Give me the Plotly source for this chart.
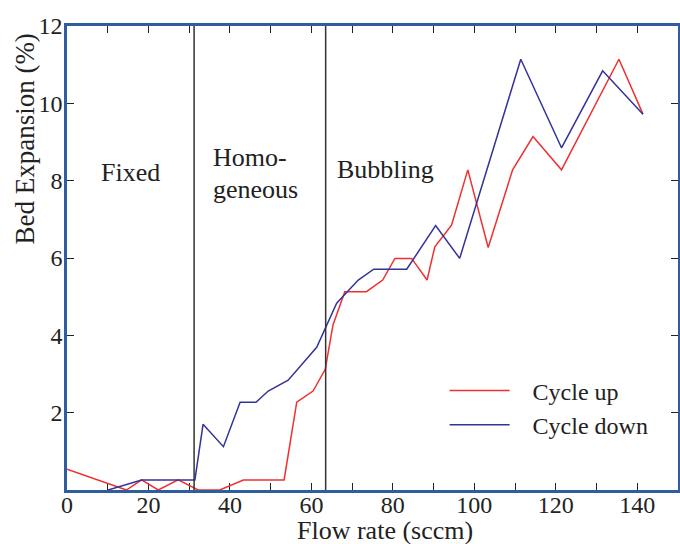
import plotly.graph_objects as go

# Data
up_x = [0, 14.6, 18.3, 22.4, 27.3, 32.2, 37.5, 43.3, 53.3, 56.4, 60.4, 63.4, 65.3, 68.2,
        73.5, 77.5, 80.5, 84.6, 88.4, 90.3, 94.4, 98.4, 103.4, 109.4, 114.4, 121.4, 135.5, 141.4]
up_y = [0.54, 0, 0.26, 0, 0.26, 0, 0, 0.26, 0.26, 2.27, 2.56, 3.12, 4.27, 5.13,
        5.13, 5.43, 5.99, 5.99, 5.43, 6.29, 6.85, 8.28, 6.27, 8.28, 9.14, 8.28, 11.14, 9.72]

down_x = [10.1, 18.3, 31.4, 33.4, 38.4, 42.5, 46.4, 49.4, 54.3, 61.3, 66.2, 71.5,
          75.3, 83.4, 90.5, 96.4, 111.4, 121.4, 131.5, 141.4]
down_y = [0, 0.26, 0.26, 1.70, 1.12, 2.27, 2.27, 2.56, 2.84, 3.69, 4.83, 5.43,
          5.71, 5.71, 6.84, 5.99, 11.14, 8.85, 10.84, 9.72]

regime_bounds = [31.2, 63.5]
regime_labels = ["Fixed", "Homo-", "geneous", "Bubbling"]
regime_label_x = [15.5, 35.3, 35.3, 65.8]
regime_label_y = [8.22, 8.61, 7.78, 8.28]
regime_label_anchor = ["center", "left", "left", "left"]

x_tickvals = list(range(0, 151, 10))
x_ticktext = [str(v) if v % 20 == 0 and v <= 140 else "" for v in x_tickvals]
y_tickvals = list(range(0, 13, 2))
y_ticktext = ["" if v == 0 else str(v) for v in y_tickvals]

x_title = "Flow rate (sccm)"
y_title = "Bed Expansion (%)"

FONT = "Liberation Serif"
TXT = "#222222"
FRAME = "#2f5d9e"

fig = go.Figure()
fig.add_trace(go.Scatter(x=up_x, y=up_y, mode="lines", name="\u00a0\u00a0\u00a0Cycle up",
                         line=dict(color="#ee3030", width=1.5)))
fig.add_trace(go.Scatter(x=down_x, y=down_y, mode="lines", name="\u00a0\u00a0\u00a0Cycle down",
                         line=dict(color="#33339a", width=1.5)))

for b in regime_bounds:
    fig.add_shape(type="line", xref="x", yref="paper", x0=b, x1=b, y0=0, y1=1,
                  line=dict(color="#333333", width=1.5))

for t, x, y, a in zip(regime_labels, regime_label_x, regime_label_y, regime_label_anchor):
    fig.add_annotation(x=x, y=y, xref="x", yref="y", text=t, showarrow=False,
                       xanchor=a, yanchor="middle",
                       font=dict(family=FONT, size=26, color=TXT))

# axis titles placed as in the reference
fig.add_annotation(x=0.520, y=-0.0875, xref="paper", yref="paper", text=x_title,
                   showarrow=False, xanchor="center", yanchor="middle",
                   font=dict(family=FONT, size=26, color=TXT))
fig.add_annotation(x=-0.069, y=0.757, xref="paper", yref="paper", text=y_title,
                   showarrow=False, xanchor="center", yanchor="middle", textangle=-90,
                   font=dict(family=FONT, size=27, color=TXT))

fig.update_layout(
    width=680, height=544,
    margin=dict(l=67, r=2, t=26, b=54),
    paper_bgcolor="white", plot_bgcolor="white",
    font=dict(family=FONT, color=TXT),
    showlegend=True,
    legend=dict(x=0.618, y=0.262, xanchor="left", yanchor="top",
                bgcolor="rgba(0,0,0,0)", font=dict(family=FONT, size=24, color=TXT),
                tracegroupgap=0, itemwidth=60),
    xaxis=dict(range=[0, 150], tickmode="array", tickvals=x_tickvals, ticktext=x_ticktext,
               ticks="inside", ticklen=7, tickwidth=1.2, tickcolor="#222",
               showline=True, linecolor=FRAME, linewidth=2.5, mirror="allticks",
               showgrid=False, zeroline=False, layer="below traces",
               tickfont=dict(family=FONT, size=24, color=TXT),
               ticklabelstandoff=-9,
               automargin=False),
    yaxis=dict(range=[0, 12], tickmode="array", tickvals=y_tickvals, ticktext=y_ticktext,
               ticks="inside", ticklen=7, tickwidth=1.2, tickcolor="#222",
               showline=True, linecolor=FRAME, linewidth=2.5, mirror="allticks",
               showgrid=False, zeroline=False, layer="below traces",
               tickfont=dict(family=FONT, size=24, color=TXT),
               ticklabelstandoff=-3,
               automargin=False),
)

fig.write_html("out.html")
